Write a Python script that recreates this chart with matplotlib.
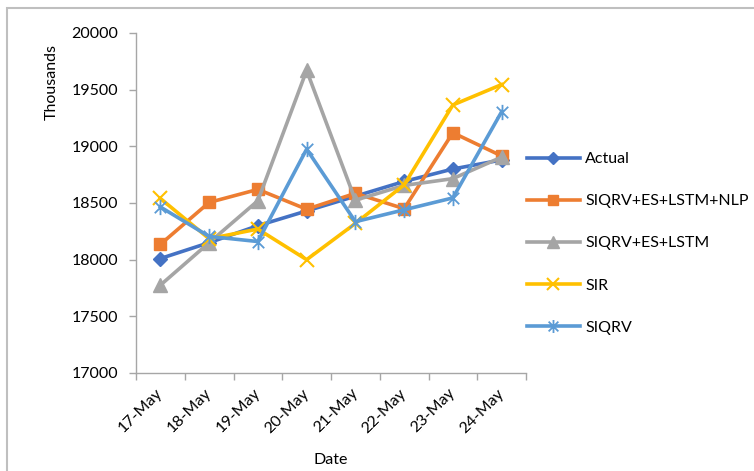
import numpy as np
import matplotlib
matplotlib.use("Agg")
import matplotlib.pyplot as plt
from matplotlib.path import Path
from matplotlib.patches import Rectangle

plt.rcParams['font.family'] = ['Lato', 'DejaVu Sans']

dates = ["17-May", "18-May", "19-May", "20-May", "21-May", "22-May", "23-May", "24-May"]

actual     = [18010, 18150, 18300, 18430, 18560, 18690, 18800, 18880]
siqrv_nlp  = [18135, 18505, 18620, 18445, 18585, 18450, 19120, 18915]
siqrv_lstm = [17775, 18150, 18520, 19670, 18525, 18655, 18715, 18905]
sir        = [18540, 18185, 18270, 18000, 18320, 18660, 19365, 19545]
siqrv      = [18465, 18205, 18160, 18975, 18335, 18440, 18545, 19305]

series_names = ["Actual", "SIQRV+ES+LSTM+NLP", "SIQRV+ES+LSTM", "SIR", "SIQRV"]

# Excel style asterisk: one vertical bar plus two diagonals
star = Path([(0, -1), (0, 1), (-0.75, -0.75), (0.75, 0.75), (-0.75, 0.75), (0.75, -0.75)],
            [Path.MOVETO, Path.LINETO, Path.MOVETO, Path.LINETO, Path.MOVETO, Path.LINETO])

styles = [
    dict(color='#4472C4', marker='D', ms=7),
    dict(color='#ED7D31', marker='s', ms=9),
    dict(color='#A5A5A5', marker='^', ms=10),
    dict(color='#FFC000', marker='x', ms=10, mew=1.5),
    dict(color='#5B9BD5', marker=star, ms=11, mew=1.3),
]

FS = 11.5
W, H = 754, 471
fig = plt.figure(figsize=(W / 100, H / 100), dpi=100)

# chart area frame (top and left edges show)
fig.patches.append(Rectangle((7 / W, -0.05), 1.0, (H - 8) / H + 0.05, transform=fig.transFigure,
                             fill=False, edgecolor='#BFBFBF', linewidth=1.5))

ax = fig.add_axes([136 / W, (H - 373) / H, (526 - 136) / W, (373 - 33) / H])

x = np.arange(len(dates))
for vals, name, st in zip([actual, siqrv_nlp, siqrv_lstm, sir, siqrv], series_names, styles):
    ax.plot(x, vals, color=st['color'], lw=2.6, marker=st['marker'], ms=st['ms'],
            mfc=st['color'], mec=st['color'], mew=st.get('mew', 1.0), label=name)

ax.set_xlim(-0.5, len(dates) - 0.5)
ax.set_ylim(17000, 20000)
ax.set_yticks(np.arange(17000, 20001, 500))
ax.set_xticks(np.arange(-0.5, len(dates), 1.0), minor=False)
ax.set_xticklabels([])
ax.set_xticks(x, minor=True)
ax.set_xticklabels(dates, minor=True, rotation=45, ha='right', va='center',
                   rotation_mode='anchor', fontsize=FS)
ax.tick_params(axis='x', which='minor', length=0, pad=13)
ax.tick_params(axis='x', which='major', length=5, color='#A6A6A6', width=1)
ax.tick_params(axis='y', length=5, color='#A6A6A6', width=1, labelsize=FS, pad=8)

for side in ['top', 'right']:
    ax.spines[side].set_visible(False)
for side in ['left', 'bottom']:
    ax.spines[side].set_color('#A6A6A6')
    ax.spines[side].set_linewidth(1)

fig.text(52 / W, 1 - 82 / H, "Thousands", rotation=90, ha='center', va='center', fontsize=FS)
fig.text(331 / W, 1 - 460 / H, "Date", ha='center', va='center', fontsize=FS)

leg = ax.legend(loc='upper left', bbox_to_anchor=(527 / W, 1 - 152 / H), bbox_transform=fig.transFigure,
                frameon=False, fontsize=FS, handlelength=3.3, handletextpad=0.35,
                labelspacing=1.75, borderpad=0, borderaxespad=0, markerscale=0.85)

fig.savefig("out.png", dpi=100)
